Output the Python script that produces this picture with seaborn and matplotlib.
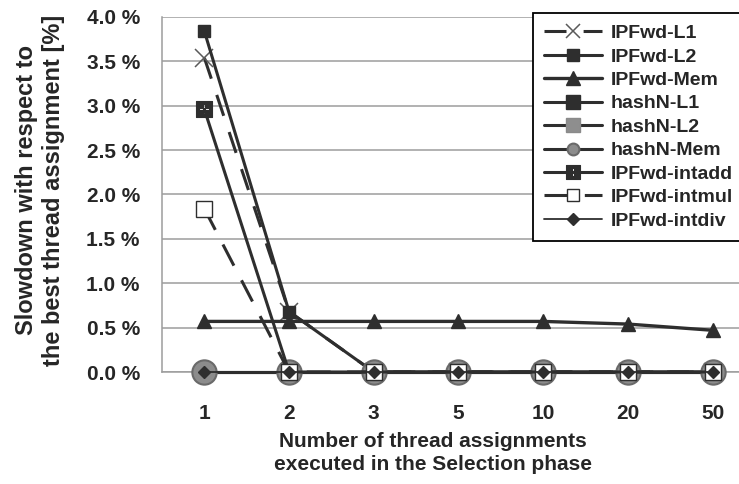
import numpy as np
import pandas as pd
import matplotlib
matplotlib.use("Agg")
import matplotlib.pyplot as plt
from matplotlib.path import Path
from matplotlib.markers import MarkerStyle
import seaborn as sns

# ---- data ----
categories = ["1", "2", "3", "5", "10", "20", "50"]
ipfwd_l1 = [3.54, 0.68, 0.0, 0.0, 0.0, 0.0, 0.0]
ipfwd_l2 = [3.84, 0.68, 0.0, 0.0, 0.0, 0.0, 0.0]
ipfwd_mem = [0.57, 0.57, 0.57, 0.57, 0.57, 0.54, 0.47]
hashn_l1 = [0.0, 0.0, 0.0, 0.0, 0.0, 0.0, 0.0]
hashn_l2 = [0.0, 0.0, 0.0, 0.0, 0.0, 0.0, 0.0]
hashn_mem = [0.0, 0.0, 0.0, 0.0, 0.0, 0.0, 0.0]
ipfwd_intadd = [2.96, 0.0, 0.0, 0.0, 0.0, 0.0, 0.0]
ipfwd_intmul = [1.84, 0.0, 0.0, 0.0, 0.0, 0.0, 0.0]
ipfwd_intdiv = [0.0, 0.0, 0.0, 0.0, 0.0, 0.0, 0.0]
yticks = [0.0, 0.5, 1.0, 1.5, 2.0, 2.5, 3.0, 3.5, 4.0]

sns.set_style("white")
plt.rcParams['font.family'] = ['Liberation Sans', 'DejaVu Sans']

DARK = "#2e2e2e"
GRID = "#9c9c9c"

fig = plt.figure(figsize=(7.39, 4.84), dpi=100)
ax = fig.add_axes([162/739, 1-372/484, (755-162)/739, (372-17)/484])

xs = np.arange(len(categories))

# plus-in-square marker (filled square with a plus cut out)
a, b = 0.1, 0.62
outer = [(-1, -1), (1, -1), (1, 1), (-1, 1), (-1, -1)]
plus = [(-a, -b), (-a, -a), (-b, -a), (-b, a), (-a, a), (-a, b), (a, b), (a, a),
        (b, a), (b, -a), (a, -a), (a, -b), (-a, -b)]
verts = outer + plus
codes = ([Path.MOVETO] + [Path.LINETO] * 3 + [Path.CLOSEPOLY] +
         [Path.MOVETO] + [Path.LINETO] * 11 + [Path.CLOSEPOLY])
plus_square = MarkerStyle(Path(verts, codes))

series = [
    ("IPFwd-L1", ipfwd_l1, dict(marker="x", markersize=13, mec="#5a5a5a", mfc="none", mew=1.1, lw=2.2, dash=(7.2, 5.6))),
    ("IPFwd-L2", ipfwd_l2, dict(marker="s", markersize=8.5, mec=DARK, mfc=DARK, mew=1, lw=2.2, dash=None)),
    ("IPFwd-Mem", ipfwd_mem, dict(marker="^", markersize=9.5, mec=DARK, mfc=DARK, mew=1, lw=2.4, dash=None)),
    ("hashN-L1", hashn_l1, dict(marker="s", markersize=9.5, mec=DARK, mfc=DARK, mew=1, lw=2.2, dash=None)),
    ("hashN-L2", hashn_l2, dict(marker="s", markersize=9.5, mec="#8a8a8a", mfc="#8e8e8e", mew=1, lw=2.2, dash=None)),
    ("hashN-Mem", hashn_mem, dict(marker="o", markersize=17.5, mec="#6a6a6a", mfc="#8c8c8c", mew=1.5, lw=2.2, dash=None)),
    ("IPFwd-intadd", ipfwd_intadd, dict(marker=plus_square, markersize=12, mec=DARK, mfc=DARK, mew=0.8, lw=2.2, dash=None)),
    ("IPFwd-intmul", ipfwd_intmul, dict(marker="s", markersize=11, mec=DARK, mfc="white", mew=1.0, lw=2.2, dash=(7.8, 5.4))),
    ("IPFwd-intdiv", ipfwd_intdiv, dict(marker="D", markersize=6.6, mec=DARK, mfc=DARK, mew=1, lw=1.3, dash=None)),
]

handles = []
for name, vals, st in series:
    df = pd.DataFrame({"x": xs, "y": vals})
    n_before = len(ax.lines)
    sns.lineplot(data=df, x="x", y="y", ax=ax, color=DARK, marker=st["marker"],
                 markersize=st["markersize"], markeredgecolor=st["mec"],
                 markerfacecolor=st["mfc"], markeredgewidth=st["mew"],
                 linewidth=st["lw"], label=name, legend=False, zorder=3)
    line = ax.lines[n_before]
    line.set_clip_on(False)
    if st["dash"] is not None:
        line.set_dashes(st["dash"])
    handles.append(line)

FS = 15
ax.set_xlim(-0.5, 6.5)
ax.set_ylim(0, 4)
ax.set_yticks(yticks)
ax.set_yticklabels([f"{v:.1f} %" for v in yticks], fontsize=FS, fontweight="bold")
ax.set_xticks(xs)
ax.set_xticklabels(categories, fontsize=FS, fontweight="bold")
ax.set_xticks(np.arange(-0.5, 6.6, 1.0), minor=True)
ax.tick_params(axis="x", which="major", length=0, pad=23)
ax.tick_params(axis="x", which="minor", length=6, width=1.1, color=GRID, direction="out")
ax.tick_params(axis="y", which="major", length=9, width=1.1, color=GRID, direction="out", pad=7)
ax.set_xlabel("")
ax.set_ylabel("")
ax.grid(axis="y", color=GRID, linewidth=1.1)
ax.grid(axis="x", visible=False)
ax.set_axisbelow(True)
for s in ["top", "right"]:
    ax.spines[s].set_visible(False)
for s in ["left", "bottom"]:
    ax.spines[s].set_color(GRID)
    ax.spines[s].set_linewidth(1.1)

fig.text(40/739, 1-190/484, "Slowdown with respect to\nthe best thread assignment [%]",
         rotation=90, ha="center", va="center", fontsize=17, fontweight="bold",
         multialignment="center", linespacing=1.2)
fig.text(433/739, 1-453/484, "Number of thread assignments\nexecuted in the Selection phase",
         ha="center", va="center", fontsize=15, fontweight="bold",
         multialignment="center", linespacing=1.25)

leg = fig.legend(handles=handles, labels=[s[0] for s in series], loc="upper left",
                 bbox_to_anchor=(533/739, 1-13/484), borderaxespad=0, frameon=True,
                 fancybox=False, shadow=False, fontsize=14, handlelength=2.95,
                 handletextpad=0.45, labelspacing=0.3, borderpad=0.59)
leg.get_frame().set_edgecolor("black")
leg.get_frame().set_linewidth(1.3)
leg.get_frame().set_alpha(None)
leg.get_frame().set_facecolor("white")
for t in leg.get_texts():
    t.set_fontweight("bold")
lh = leg.legend_handles
small = {"hashN-Mem": 8.5, "IPFwd-intadd": 9.5, "IPFwd-intmul": 8.5, "IPFwd-L1": 10}
for h, (name, _, _) in zip(lh, series):
    if name in small:
        h.set_markersize(small[name])

fig.savefig("out.png", dpi=100)
